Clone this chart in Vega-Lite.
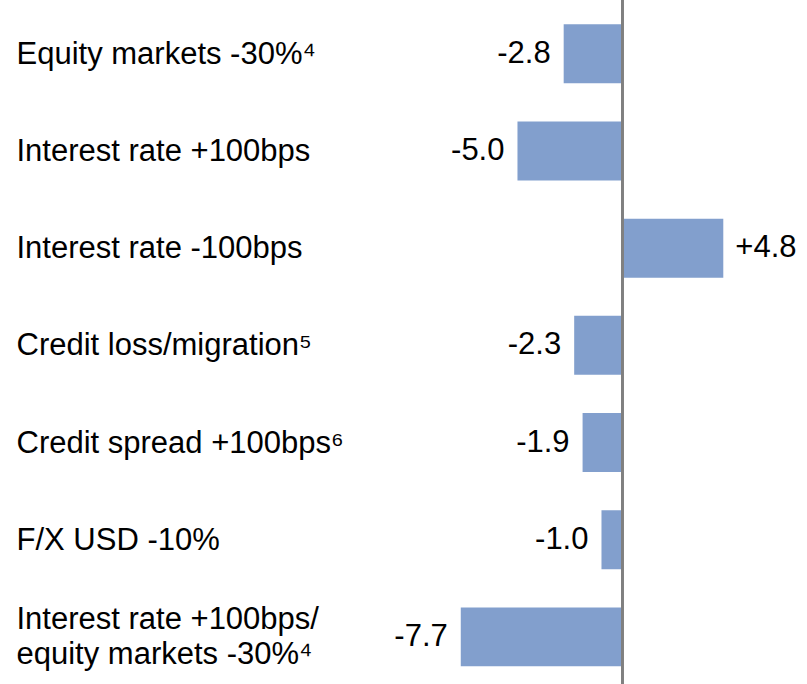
{
  "$schema": "https://vega.github.io/schema/vega-lite/v6.json",
  "width": 807,
  "height": 684,
  "padding": 0,
  "autosize": "none",
  "background": "white",
  "config": {"view": {"stroke": null}, "font": "Liberation Sans"},
  "data": {
    "values": [
      {"cat": "Equity markets -30%⁴", "v": -2.8, "lab": "-2.8"},
      {"cat": "Interest rate +100bps", "v": -5.0, "lab": "-5.0"},
      {"cat": "Interest rate -100bps", "v": 4.8, "lab": "+4.8"},
      {"cat": "Credit loss/migration⁵", "v": -2.3, "lab": "-2.3"},
      {"cat": "Credit spread +100bps⁶", "v": -1.9, "lab": "-1.9"},
      {"cat": "F/X USD -10%", "v": -1.0, "lab": "-1.0"},
      {"cat": "Interest rate +100bps/|equity markets -30%⁴", "v": -7.7, "lab": "-7.7"}
    ]
  },
  "layer": [
    {
      "encoding": {
        "y": {
          "field": "cat", "type": "nominal", "sort": null,
          "scale": {"paddingInner": 0.393, "paddingOuter": 0.216, "align": 0.58},
          "axis": {
            "title": null, "domain": false, "ticks": false, "grid": false,
            "labelAlign": "left", "labelPadding": -16, "labelLimit": 0,
            "labelFontSize": 31, "labelColor": "#000000", "labelFont": "Liberation Sans",
            "labelLineHeight": 35, "labelBaseline": "middle", "labelOverlap": false, "labelBound": false,
            "labelOffset": {"condition": {"test": "indexof(datum.value, '|') >= 0", "value": -17}, "value": 1},
            "labelExpr": "split(datum.label, '|')"
          }
        },
        "x": {"field": "v", "type": "quantitative", "scale": {"domain": [-29.64, 8.786], "nice": false, "zero": false}, "axis": null}
      },
      "layer": [
        {
          "mark": {"type": "bar", "color": "#829FCD"}
        },
        {
          "transform": [{"filter": "datum.v < 0"}],
          "mark": {"type": "text", "align": "right", "baseline": "middle", "dx": -13, "fontSize": 31, "color": "#000000", "font": "Liberation Sans"},
          "encoding": {"text": {"field": "lab"}}
        },
        {
          "transform": [{"filter": "datum.v > 0"}],
          "mark": {"type": "text", "align": "left", "baseline": "middle", "dx": 12, "fontSize": 31, "color": "#000000", "font": "Liberation Sans"},
          "encoding": {"text": {"field": "lab"}}
        }
      ]
    },
    {
      "mark": {"type": "rule", "color": "#808080", "strokeWidth": 2},
      "encoding": {"x": {"datum": 0, "type": "quantitative"}}
    }
  ]
}
